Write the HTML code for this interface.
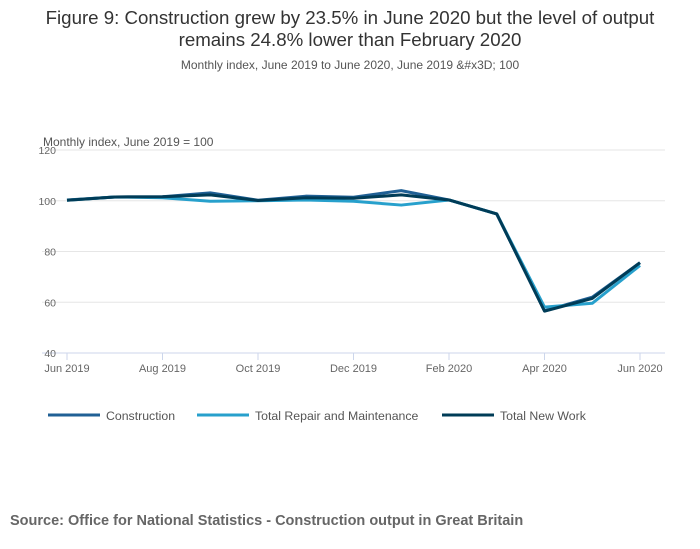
<!DOCTYPE html>
<html><head><meta charset="utf-8"><style>
body{margin:0;background:#fff;font-family:"Liberation Sans",sans-serif;}
#wrap{position:relative;width:700px;height:549px;overflow:hidden}
.t{position:absolute;left:0;width:700px;text-align:center;color:#333}
</style></head><body><div id="wrap">
<div class="t" style="top:7px;font-size:18.7px;line-height:22px">Figure 9: Construction grew by 23.5% in June 2020 but the level of output<br>remains 24.8% lower than February 2020</div>
<div class="t" style="top:58px;font-size:12px;color:#555">Monthly index, June 2019 to June 2020, June 2019 &amp;#x3D; 100</div>
<div style="position:absolute;left:10px;top:513px;font-size:14.5px;font-weight:bold;color:#666">Source: Office for National Statistics - Construction output in Great Britain</div>
<svg id="c" width="700" height="549" style="position:absolute;left:0;top:0"></svg>
</div>
<script>
const months=["Jun 2019","Jul 2019","Aug 2019","Sep 2019","Oct 2019","Nov 2019","Dec 2019","Jan 2020","Feb 2020","Mar 2020","Apr 2020","May 2020","Jun 2020"];
const construction=[100.3,101.5,101.6,103.1,100.2,101.8,101.4,104.0,100.3,94.8,56.6,62.0,75.6];
const repair=[100.2,101.5,101.2,99.8,100.0,100.3,99.8,98.3,100.3,94.8,58.1,59.6,74.5];
const newWork=[100.2,101.5,101.6,102.3,100.1,101.2,101.0,102.3,100.3,94.8,56.5,61.5,75.6];
const yTicks=[40,60,80,100,120];
const svg=document.getElementById('c');const NS='http://www.w3.org/2000/svg';
const x=i=>67+i*(640-67)/(months.length-1);
const y=v=>353-(v-40)*(353-150)/80;
function mk(t,a,p){const e=document.createElementNS(NS,t);for(const k in a)e.setAttribute(k,a[k]);(p||svg).appendChild(e);return e;}
yTicks.forEach(v=>{
 const l=mk('line',{x1:42,x2:665,y1:y(v),y2:y(v),stroke:v==40?'#ccd6eb':'#e6e6e6','stroke-width':1});
 
 
 const t=mk('text',{x:56,y:y(v)+4,'text-anchor':'end','font-size':10.5,fill:'#666','font-family':'Liberation Sans'});t.textContent=v;
 
 
});
const yt=mk('text',{x:43,y:146,'font-size':12,fill:'#555','font-family':'Liberation Sans'});yt.textContent='Monthly index, June 2019 = 100';


months.forEach((m,i)=>{
 if(i%2)return;
 const l=mk('line',{x1:x(i),x2:x(i),y1:353,y2:360,stroke:'#ccd6eb'});
 
 
 const t=mk('text',{x:x(i),y:372,'text-anchor':'middle','font-size':11,fill:'#666','font-family':'Liberation Sans'});t.textContent=m;
 
 
});
const series=[["construction",construction,'#206095'],["repair",repair,'#27a0cc'],["new-work",newWork,'#003c57']];
series.forEach(s=>{
 const p=mk('polyline',{points:s[1].map((v,i)=>x(i)+','+y(v)).join(' '),fill:'none',stroke:s[2],'stroke-width':3,'stroke-linejoin':'round'});
 
 
});
const leg=[["Construction",'#206095',48],["Total Repair and Maintenance",'#27a0cc',197],["Total New Work",'#003c57',442]];
leg.forEach(l=>{
 const g=mk('g',{});
 
 
 mk('line',{x1:l[2],x2:l[2]+52,y1:415,y2:415,stroke:l[1],'stroke-width':3},g);
 const t=mk('text',{x:l[2]+58,y:420,'font-size':12.3,fill:'#555','font-family':'Liberation Sans'},g);t.textContent=l[0];
});
</script></body></html>
